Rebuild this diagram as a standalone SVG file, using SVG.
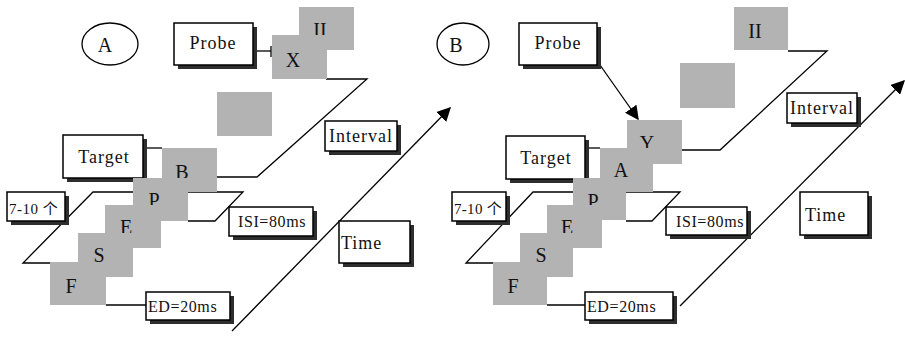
<svg xmlns="http://www.w3.org/2000/svg" width="905" height="339" viewBox="0 0 905 339">
<style>
.bx{fill:#fff;stroke:#000;stroke-width:1.5}
.sh{fill:#2e2e2e}
.sq{fill:#b3b3b3}
.ln{fill:none;stroke:#000;stroke-width:1.3}
.t{font-family:"Liberation Serif","Noto Sans CJK SC",serif;fill:#111}
.lb{font-size:18px;letter-spacing:1px}
.lt{font-size:20px;text-anchor:middle}
.sm{font-size:16px;letter-spacing:0.6px}
</style>
<defs>
<marker id="ah" viewBox="0 0 10 10" refX="9" refY="5" markerWidth="14" markerHeight="14" markerUnits="userSpaceOnUse" orient="auto">
<path d="M0,0 L10,5 L0,10 z" fill="#000"/>
</marker>
</defs>
<rect width="905" height="339" fill="#fff"/>

<g id="connectors">
<!-- Panel A -->
<path class="ln" d="M188,221 L215,221 L243,192 L93,192 L23,263 L50,263"/>
<path class="ln" d="M217,177 L257,177 L367,79 L326,79"/>
<line class="ln" x1="232" y1="331" x2="450" y2="108" marker-end="url(#ah)"/>
<line class="ln" x1="133" y1="148" x2="162" y2="148"/>
<line class="ln" x1="253" y1="51" x2="271" y2="51"/>
<line class="ln" x1="271" y1="46" x2="271" y2="57"/>
<line class="ln" x1="106" y1="305" x2="146" y2="305"/>
<!-- Panel B -->
<path class="ln" d="M626,221 L652,221 L680,192 L533,192 L466,263 L493,263"/>
<path class="ln" d="M682,150 L720,150 L827,51 L788,51"/>
<line class="ln" x1="680" y1="306" x2="904" y2="81" marker-end="url(#ah)"/>
<line class="ln" x1="585" y1="148" x2="600" y2="148"/>
<line class="ln" x1="600" y1="65" x2="638" y2="119" marker-end="url(#ah)"/>
<line class="ln" x1="547" y1="305" x2="585" y2="305"/>
</g>

<!-- Panel A nodes -->
<g id="labelA"><ellipse cx="110" cy="44" rx="28" ry="21" fill="#fff" stroke="#000" stroke-width="1.3"/><text class="t lt" x="105" y="52">A</text></g>
<g id="probeA"><rect class="sh" x="178" y="27" width="79" height="42"/><rect class="bx" x="174" y="23" width="79" height="42"/><text class="t lb" x="213" y="49" text-anchor="middle">Probe</text></g>
<g id="sqA_II"><rect class="sq" x="299" y="7" width="55" height="43"/><text class="t lt" x="320" y="37">II</text></g>
<g id="sqA_X"><rect class="sq" x="272" y="35" width="55" height="44"/><text class="t lt" x="293" y="67">X</text></g>
<g id="sqA_blank"><rect class="sq" x="217" y="92" width="55" height="44"/></g>
<g id="intervalA"><rect class="sh" x="329" y="125" width="72" height="30"/><rect class="bx" x="325" y="121" width="72" height="30"/><text class="t lb" x="361" y="142" text-anchor="middle">Interval</text></g>
<g id="targetA"><rect class="sh" x="67" y="139" width="80" height="43"/><rect class="bx" x="63" y="135" width="80" height="43"/><text class="t lb" x="104" y="163" text-anchor="middle">Target</text></g>
<g id="sqA_B"><rect class="sq" x="162" y="148" width="55" height="44"/><text class="t lt" x="182" y="179">B</text></g>
<g id="sqA_P"><rect class="sq" x="133" y="178" width="55" height="43"/><text class="t lt" x="154" y="207">P</text></g>
<g id="sqA_E"><rect class="sq" x="105" y="205" width="56" height="43"/><text class="t lt" x="126" y="234">E</text></g>
<g id="sqA_S"><rect class="sq" x="78" y="233" width="55" height="44"/><text class="t lt" x="99" y="262">S</text></g>
<g id="sqA_F"><rect class="sq" x="50" y="262" width="56" height="43"/><text class="t lt" x="71" y="293">F</text></g>
<g id="countA"><rect class="sh" x="11" y="196" width="58" height="29"/><rect class="bx" x="7" y="192" width="58" height="29"/><text class="t" x="9" y="214" font-size="15" letter-spacing="0.5">7-10 个</text></g>
<g id="isiA"><rect class="sh" x="233" y="211" width="84" height="29"/><rect class="bx" x="229" y="207" width="84" height="29"/><text class="t sm" x="238" y="227" font-size="17">ISI=80ms</text></g>
<g id="timeA"><rect class="sh" x="343" y="225" width="71" height="42"/><rect class="bx" x="339" y="221" width="71" height="42"/><text class="t lb" x="341" y="249">Time</text></g>
<g id="edA"><rect class="sh" x="150" y="296" width="84" height="28"/><rect class="bx" x="146" y="292" width="84" height="28"/><text class="t sm" x="148" y="312">ED=20ms</text></g>

<!-- Panel B nodes -->
<g id="labelB"><ellipse cx="463" cy="44" rx="26" ry="21" fill="#fff" stroke="#000" stroke-width="1.3"/><text class="t lt" x="456" y="52">B</text></g>
<g id="probeB"><rect class="sh" x="523" y="27" width="78" height="42"/><rect class="bx" x="519" y="23" width="78" height="42"/><text class="t lb" x="558" y="49" text-anchor="middle">Probe</text></g>
<g id="sqB_II"><rect class="sq" x="734" y="7" width="54" height="43"/><text class="t lt" x="755" y="38">II</text></g>
<g id="sqB_blank"><rect class="sq" x="680" y="63" width="55" height="45"/></g>
<g id="intervalB"><rect class="sh" x="791" y="97" width="70" height="30"/><rect class="bx" x="787" y="93" width="70" height="30"/><text class="t lb" x="822" y="114" text-anchor="middle">Interval</text></g>
<g id="sqB_Y"><rect class="sq" x="627" y="120" width="55" height="44"/><text class="t lt" x="647" y="150">Y</text></g>
<g id="targetB"><rect class="sh" x="510" y="140" width="79" height="43"/><rect class="bx" x="506" y="136" width="79" height="43"/><text class="t lb" x="546" y="164" text-anchor="middle">Target</text></g>
<g id="sqB_A"><rect class="sq" x="600" y="148" width="53" height="44"/><text class="t lt" x="621" y="177">A</text></g>
<g id="sqB_P"><rect class="sq" x="573" y="178" width="53" height="42"/><text class="t lt" x="593" y="208">P</text></g>
<g id="sqB_E"><rect class="sq" x="547" y="205" width="55" height="43"/><text class="t lt" x="567" y="234">E</text></g>
<g id="sqB_S"><rect class="sq" x="520" y="233" width="53" height="44"/><text class="t lt" x="541" y="262">S</text></g>
<g id="sqB_F"><rect class="sq" x="493" y="262" width="54" height="43"/><text class="t lt" x="513" y="293">F</text></g>
<g id="countB"><rect class="sh" x="456" y="196" width="54" height="29"/><rect class="bx" x="452" y="192" width="54" height="29"/><text class="t" x="454" y="214" font-size="15" letter-spacing="0.3">7-10 个</text></g>
<g id="isiB"><rect class="sh" x="670" y="211" width="81" height="28"/><rect class="bx" x="666" y="207" width="81" height="28"/><text class="t sm" x="676" y="227" font-size="17" letter-spacing="0.2">ISI=80ms</text></g>
<g id="timeB"><rect class="sh" x="804" y="196" width="68" height="43"/><rect class="bx" x="800" y="192" width="68" height="43"/><text class="t lb" x="805" y="221">Time</text></g>
<g id="edB"><rect class="sh" x="589" y="296" width="88" height="28"/><rect class="bx" x="585" y="292" width="88" height="28"/><text class="t sm" x="587" y="312">ED=20ms</text></g>
</svg>
